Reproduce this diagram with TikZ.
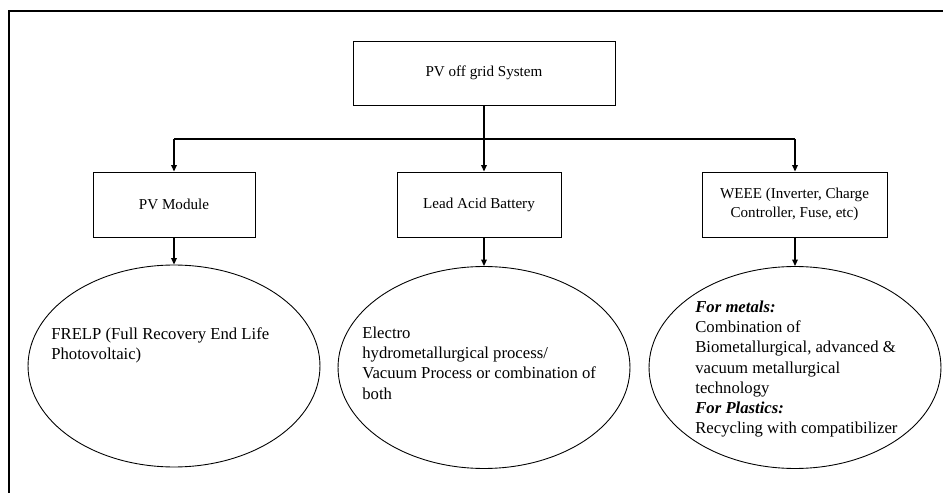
\documentclass[tikz,border=0pt]{standalone}
\usepackage{fontspec}
\setmainfont{Liberation Serif}
\usetikzlibrary{shapes.geometric,arrows.meta}

\begin{document}
\begin{tikzpicture}[x=0.02cm,y=-0.02cm,
  box/.style={draw,line width=0.5pt,font=\fontsize{8.6}{10.8}\selectfont,align=center},
  oval/.style={draw,ellipse,line width=0.5pt,minimum width=5.84cm,minimum height=4.04cm},
  note/.style={anchor=north west,inner sep=0pt,align=left,font=\fontsize{9.5}{11.4}\selectfont},
  link/.style={line width=1.1pt},
  arr/.style={link,-{Triangle[length=1.3mm,width=1.1mm]}}]

\useasboundingbox (0,0) rectangle (943,493);
\draw [line width=0.8pt] (9,493) -- (9,11) -- (943,11);

\node (S) at (484,73) [box,minimum width=5.24cm,minimum height=1.28cm] {PV off grid System};
\node (M) at (174,204.5) [box,minimum width=3.24cm,minimum height=1.3cm] {PV Module};
\node (B) at (479,204.5) [box,minimum width=3.28cm,minimum height=1.3cm] {Lead Acid Battery};
\node (W) at (794.5,204.5) [box,minimum width=3.7cm,minimum height=1.3cm] {WEEE (Inverter, Charge\\Controller, Fuse, etc)};

\node (E1) at (174,366) [oval] {};
\node (E2) at (484,367.5) [oval] {};
\node (E3) at (795,367.5) [oval] {};

\node (T1) at (51,327) [note] {FRELP (Full Recovery End Life\\Photovoltaic)};
\node (T2) at (362,327) [note] {Electro\\hydrometallurgical process/\\Vacuum Process or combination of\\both};
\node (T3) at (695,301) [note] {\textbf{\textit{For metals:}}\\Combination of\\Biometallurgical, advanced \&\\vacuum metallurgical\\technology\\\textbf{\textit{For Plastics:}}\\Recycling with compatibilizer};

\coordinate (bus) at (484,139);

\draw [link] (S) -- (bus);
\draw [link,line width=1.4pt] (bus -| M) -- (bus -| E3);
\draw [arr] (bus -| M) -- (M);
\draw [arr] (bus) -- (bus |- B.north);
\draw [arr] (bus -| E3) -- (E3 |- W.north);

\draw [arr] (M) -- (E1);
\draw [arr] (E2 |- B.south) -- (E2);
\draw [arr] (E3 |- W.south) -- (E3);

\end{tikzpicture}
\end{document}
